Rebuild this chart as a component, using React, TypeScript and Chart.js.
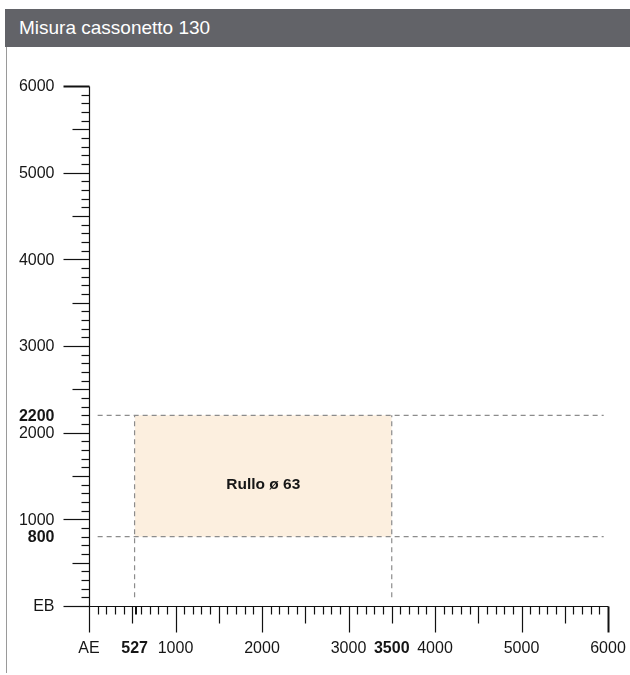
import { useEffect, useRef } from 'react';
import { Chart, registerables } from 'chart.js';

Chart.register(...registerables);

const TITLE = 'Misura cassonetto 130';

const AXIS_MIN = 0;
const AXIS_MAX = 6000;
const MINOR_STEP = 100;
const MEDIUM_STEP = 500;
const MAJOR_STEP = 1000;

const xLabelValues = [0, 527, 1000, 2000, 3000, 3500, 4000, 5000, 6000];
const xLabelTexts = ['AE', '527', '1000', '2000', '3000', '3500', '4000', '5000', '6000'];
const xLabelBold = [false, true, false, false, false, true, false, false, false];

const yLabelValues = [0, 800, 1000, 2000, 2200, 3000, 4000, 5000, 6000];
const yLabelTexts = ['EB', '800', '1000', '2000', '2200', '3000', '4000', '5000', '6000'];
const yLabelBold = [false, true, false, false, true, false, false, false, false];

const rangeX = [527, 3500];
const rangeY = [800, 2200];
const guideSpanX = [100, 5950];
const guideBottomY = 100;
const markerTicksX = [527];

const areaLabel = 'Rullo ø 63';
const areaLabelPos = [2015, 1400];

const FONT = '"Liberation Sans", Arial, Helvetica, sans-serif';

const axesPlugin = {
  id: 'customAxes',
  afterDraw(chart: any) {
    const ctx = chart.ctx;
    const xs = chart.scales.x;
    const ys = chart.scales.y;
    const px = (v: number) => Math.round(xs.getPixelForValue(v)) + 0.5;
    const py = (v: number) => Math.round(ys.getPixelForValue(v)) + 0.5;
    const x0 = px(AXIS_MIN);
    const y0 = py(AXIS_MIN);
    ctx.save();
    ctx.strokeStyle = '#111';
    ctx.lineWidth = 1.2;
    ctx.beginPath();
    ctx.moveTo(x0, py(AXIS_MAX));
    ctx.lineTo(x0, y0);
    ctx.lineTo(px(AXIS_MAX), y0);
    ctx.stroke();

    for (let v = AXIS_MIN; v <= AXIS_MAX; v += MINOR_STEP) {
      const len = v % MAJOR_STEP === 0 ? 26 : v % MEDIUM_STEP === 0 ? 17 : 8;
      ctx.lineWidth = v === AXIS_MAX ? 2 : 1.2;
      const tx = px(v);
      ctx.beginPath();
      ctx.moveTo(tx, y0);
      ctx.lineTo(tx, y0 + len);
      ctx.stroke();
      const ty = py(v);
      ctx.beginPath();
      ctx.moveTo(x0 - len, ty);
      ctx.lineTo(x0, ty);
      ctx.stroke();
    }
    ctx.lineWidth = 2;
    markerTicksX.forEach((v) => {
      const tx = Math.round(xs.getPixelForValue(v)) + 1;
      ctx.beginPath();
      ctx.moveTo(tx, y0);
      ctx.lineTo(tx, y0 + 8);
      ctx.stroke();
    });

    ctx.fillStyle = '#161616';
    ctx.textBaseline = 'middle';
    ctx.textAlign = 'center';
    xLabelValues.forEach((v, i) => {
      ctx.font = `${xLabelBold[i] ? 'bold ' : ''}16px ${FONT}`;
      ctx.fillText(xLabelTexts[i], xs.getPixelForValue(v), y0 + 42);
    });
    ctx.textAlign = 'right';
    yLabelValues.forEach((v, i) => {
      ctx.font = `${yLabelBold[i] ? 'bold ' : ''}16px ${FONT}`;
      ctx.fillText(yLabelTexts[i], x0 - 35, ys.getPixelForValue(v) + 1);
    });

    ctx.textAlign = 'center';
    ctx.font = `bold 15.5px ${FONT}`;
    ctx.fillText(areaLabel, xs.getPixelForValue(areaLabelPos[0]), ys.getPixelForValue(areaLabelPos[1]));
    ctx.restore();
  },
};

const GUIDE = {
  borderColor: '#8c8c8c',
  borderWidth: 1.2,
  borderDash: [5, 4],
  pointRadius: 0,
  fill: false,
};

export default function App() {
  const ref = useRef<HTMLCanvasElement>(null);
  useEffect(() => {
    if (!ref.current) return;
    const chart = new Chart(ref.current, {
      type: 'line',
      data: {
        datasets: [
          {
            data: [{ x: rangeX[0], y: rangeY[1] }, { x: rangeX[1], y: rangeY[1] }],
            borderColor: 'rgba(0,0,0,0)',
            pointRadius: 0,
            fill: false,
          },
          {
            data: [{ x: rangeX[0], y: rangeY[0] }, { x: rangeX[1], y: rangeY[0] }],
            borderColor: 'rgba(0,0,0,0)',
            backgroundColor: '#fcefdf',
            pointRadius: 0,
            fill: '-1',
          },
          { ...GUIDE, data: [{ x: guideSpanX[0], y: rangeY[1] }, { x: guideSpanX[1], y: rangeY[1] }] },
          { ...GUIDE, data: [{ x: guideSpanX[0], y: rangeY[0] }, { x: guideSpanX[1], y: rangeY[0] }] },
          { ...GUIDE, data: [{ x: rangeX[0], y: guideBottomY }, { x: rangeX[0], y: rangeY[1] }] },
          { ...GUIDE, data: [{ x: rangeX[1], y: guideBottomY }, { x: rangeX[1], y: rangeY[1] }] },
        ] as any,
      },
      options: {
        animation: false,
        responsive: false,
        devicePixelRatio: 1,
        events: [],
        layout: { padding: { left: 89, top: 86, right: 22, bottom: 69 } },
        scales: {
          x: { type: 'linear', min: AXIS_MIN, max: AXIS_MAX, display: false },
          y: { type: 'linear', min: AXIS_MIN, max: AXIS_MAX, display: false },
        },
        plugins: {
          legend: { display: false },
          tooltip: { enabled: false },
          filler: { drawTime: 'beforeDatasetsDraw' },
        } as any,
      },
      plugins: [axesPlugin],
    });
    return () => chart.destroy();
  }, []);

  return (
    <div style={{ position: 'absolute', left: 0, top: 0, width: 630, height: 675, background: '#fff' }}>
      <canvas ref={ref} width={630} height={675} style={{ position: 'absolute', left: 0, top: 0 }} />
      <div
        style={{
          position: 'absolute',
          left: 5,
          top: 9,
          width: 625,
          height: 38,
          background: '#626368',
          color: '#fff',
          fontFamily: FONT,
          fontSize: 19,
          lineHeight: '38px',
          paddingLeft: 14,
          boxSizing: 'border-box',
        }}
      >
        {TITLE}
      </div>
      <div style={{ position: 'absolute', left: 6, top: 47, width: 1, height: 626, background: '#9a9a9a' }} />
    </div>
  );
}
